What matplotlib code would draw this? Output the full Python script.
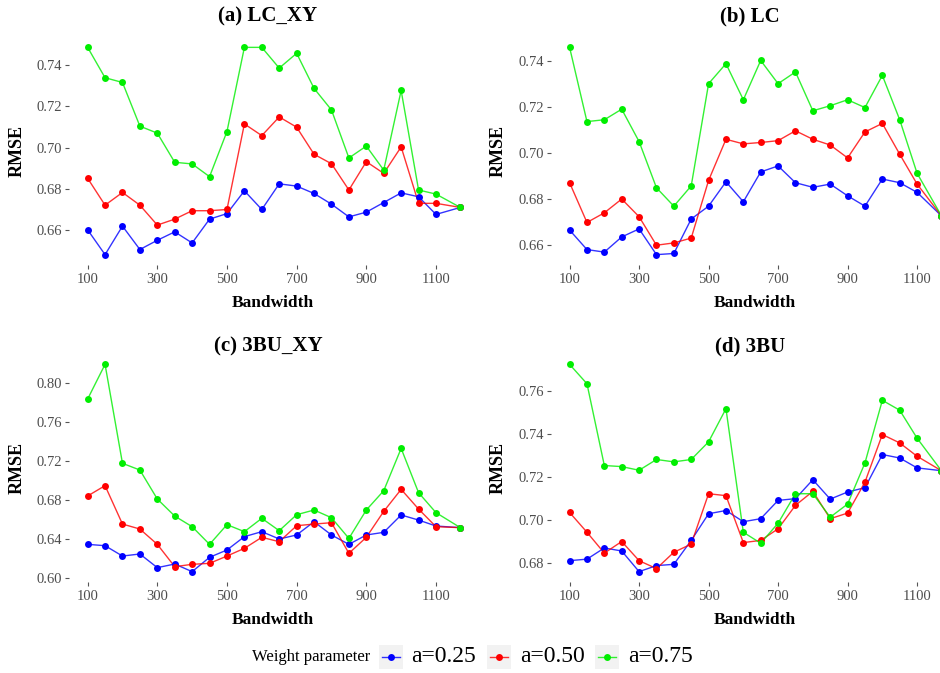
import matplotlib
matplotlib.use("Agg")
import matplotlib.pyplot as plt
from matplotlib.lines import Line2D
from matplotlib.patches import Rectangle

plt.rcParams['font.family'] = ['Liberation Serif', 'DejaVu Serif']

bandwidth = [100, 150, 200, 250, 300, 350, 400, 450, 500, 550, 600, 650,
             700, 750, 800, 850, 900, 950, 1000, 1050, 1100, 1170]

series_labels = ["a=0.25", "a=0.50", "a=0.75"]
series_colors = ["#0000FF", "#FF0000", "#00EE00"]

# (a) LC_XY
lcxy_025 = [0.6599, 0.6478, 0.6617, 0.6503, 0.6548, 0.6589, 0.6535, 0.6651, 0.6678, 0.6789, 0.6698,
            0.6823, 0.6812, 0.6776, 0.6724, 0.6662, 0.6685, 0.6732, 0.6779, 0.6760, 0.6674, 0.6708]
lcxy_050 = [0.6850, 0.6719, 0.6781, 0.6719, 0.6622, 0.6651, 0.6692, 0.6692, 0.6698, 0.7115, 0.7058,
            0.7149, 0.7099, 0.6967, 0.6921, 0.6793, 0.6931, 0.6874, 0.7003, 0.6728, 0.6728, 0.6708]
lcxy_075 = [0.7488, 0.7340, 0.7317, 0.7104, 0.7070, 0.6928, 0.6920, 0.6858, 0.7078, 0.7488, 0.7488,
            0.7387, 0.7459, 0.7288, 0.7183, 0.6949, 0.7007, 0.6890, 0.7278, 0.6793, 0.6773, 0.6708]

# (b) LC
lc_025 = [0.6663, 0.6578, 0.6567, 0.6633, 0.6668, 0.6556, 0.6561, 0.6711, 0.6767, 0.6873, 0.6786,
          0.6916, 0.6942, 0.6869, 0.6849, 0.6863, 0.6812, 0.6767, 0.6885, 0.6869, 0.6827, 0.6725]
lc_050 = [0.6869, 0.6696, 0.6738, 0.6798, 0.6721, 0.6597, 0.6607, 0.6628, 0.6879, 0.7058, 0.7038,
          0.7044, 0.7052, 0.7095, 0.7058, 0.7033, 0.6977, 0.7090, 0.7127, 0.6993, 0.6863, 0.6725]
lc_075 = [0.7458, 0.7135, 0.7143, 0.7189, 0.7048, 0.6847, 0.6767, 0.6855, 0.7300, 0.7387, 0.7230,
          0.7401, 0.7300, 0.7351, 0.7182, 0.7204, 0.7230, 0.7196, 0.7336, 0.7143, 0.6910, 0.6725]

# (c) 3BU_XY
bxy_025 = [0.6342, 0.6328, 0.6222, 0.6243, 0.6103, 0.6140, 0.6062, 0.6209, 0.6284, 0.6421, 0.6472,
           0.6397, 0.6438, 0.6574, 0.6438, 0.6342, 0.6438, 0.6465, 0.6643, 0.6591, 0.6530, 0.6513]
bxy_050 = [0.6838, 0.6944, 0.6550, 0.6499, 0.6342, 0.6113, 0.6137, 0.6147, 0.6222, 0.6301, 0.6414,
           0.6369, 0.6533, 0.6550, 0.6564, 0.6250, 0.6414, 0.6680, 0.6906, 0.6704, 0.6523, 0.6513]
bxy_075 = [0.7832, 0.8188, 0.7173, 0.7104, 0.6807, 0.6632, 0.6523, 0.6342, 0.6544, 0.6472, 0.6609,
           0.6482, 0.6646, 0.6694, 0.6615, 0.6403, 0.6694, 0.6892, 0.7326, 0.6872, 0.6667, 0.6513]

# (d) 3BU
bu_025 = [0.6812, 0.6819, 0.6871, 0.6857, 0.6761, 0.6789, 0.6795, 0.6906, 0.7030, 0.7045, 0.6993,
          0.7007, 0.7092, 0.7100, 0.7188, 0.7098, 0.7131, 0.7151, 0.7305, 0.7289, 0.7243, 0.7230]
bu_050 = [0.7036, 0.6944, 0.6847, 0.6901, 0.6812, 0.6775, 0.6851, 0.6889, 0.7123, 0.7114, 0.6896,
          0.6906, 0.6960, 0.7069, 0.7134, 0.7007, 0.7033, 0.7177, 0.7398, 0.7359, 0.7297, 0.7230]
bu_075 = [0.7724, 0.7634, 0.7254, 0.7249, 0.7232, 0.7282, 0.7271, 0.7282, 0.7364, 0.7518, 0.6944,
          0.6893, 0.6986, 0.7123, 0.7123, 0.7014, 0.7075, 0.7266, 0.7557, 0.7511, 0.7381, 0.7230]

panel_titles = ["(a) LC_XY", "(b) LC", "(c) 3BU_XY", "(d) 3BU"]
panel_data = [(lcxy_025, lcxy_050, lcxy_075), (lc_025, lc_050, lc_075),
              (bxy_025, bxy_050, bxy_075), (bu_025, bu_050, bu_075)]
panel_yticks = [[0.66, 0.68, 0.70, 0.72, 0.74], [0.66, 0.68, 0.70, 0.72, 0.74],
                [0.60, 0.64, 0.68, 0.72, 0.76, 0.80], [0.68, 0.70, 0.72, 0.74, 0.76]]
xticks = [100, 300, 500, 700, 900, 1100]

W, H = 940, 673
fig = plt.figure(figsize=(W / 100, H / 100), dpi=100)

# pixel boxes: (left, top, right, bottom)
boxes = [(69, 37, 479, 265), (551, 37, 960, 265), (69, 354, 479, 582), (551, 354, 960, 582)]
title_pos = [(268, 16), (750, 16), (268, 346), (750, 346)]
xlabel_pos = [(273, 303), (755, 303), (273, 620), (755, 620)]
ylabel_x = [17, 498, 17, 498]

tick_gray = "#4D4D4D"
for i, (l, t, r, b) in enumerate(boxes):
    ax = fig.add_axes([l / W, (H - b) / H, (r - l) / W, (b - t) / H])
    for vals, c in zip(panel_data[i], series_colors):
        ax.plot(bandwidth, vals, color=c, lw=1.0, alpha=0.8, zorder=2)
        ax.plot(bandwidth, vals, ls='none', marker='o', ms=5.0, color=c,
                markeredgewidth=0, zorder=3)
    ax.margins(x=0.05, y=0.05)
    ax.set_xticks(xticks)
    ax.set_xticklabels([str(x) for x in xticks])
    yt = panel_yticks[i]
    ax.set_yticks(yt)
    ax.set_yticklabels([f"{v:.2f}" for v in yt])
    for s in ax.spines.values():
        s.set_visible(False)
    ax.tick_params(axis='both', length=3, width=0.8, color="#555555",
                   labelcolor=tick_gray, labelsize=10.5, pad=2)
    ax.tick_params(axis='x', pad=3)
    ax.set_facecolor("white")
    fig.text(title_pos[i][0] / W, 1 - title_pos[i][1] / H, panel_titles[i],
             ha='center', va='center', fontsize=15, fontweight='bold')
    fig.text(xlabel_pos[i][0] / W, 1 - xlabel_pos[i][1] / H, "Bandwidth",
             ha='center', va='center', fontsize=12.5, fontweight='bold')
    fig.text(ylabel_x[i] / W, 1 - ((t + b) / 2) / H, "RMSE", rotation=90,
             ha='center', va='center', fontsize=13, fontweight='bold')

# legend
ly = 657
fig.text(252 / W, 1 - ly / H, "Weight parameter", ha='left', va='center', fontsize=12)
key_x = [379, 487, 595]
lab_x = [411, 520, 628]
for kx, lx, c, lab in zip(key_x, lab_x, series_colors, series_labels):
    fig.patches.append(Rectangle((kx / W, (H - ly - 12) / H), 24 / W, 24 / H,
                                 transform=fig.transFigure, facecolor="#F2F2F2",
                                 edgecolor='none'))
    fig.lines.append(Line2D([(kx + 3) / W, (kx + 21) / W], [1 - ly / H, 1 - ly / H],
                            transform=fig.transFigure, color=c, lw=1.0, alpha=0.8))
    fig.lines.append(Line2D([(kx + 12) / W], [1 - ly / H], transform=fig.transFigure,
                            marker='o', ms=5.0, color=c, markeredgewidth=0))
    fig.text(lx / W, 1 - ly / H, lab, ha='left', va='center', fontsize=17)

fig.savefig("out.png", dpi=100, facecolor="white")
